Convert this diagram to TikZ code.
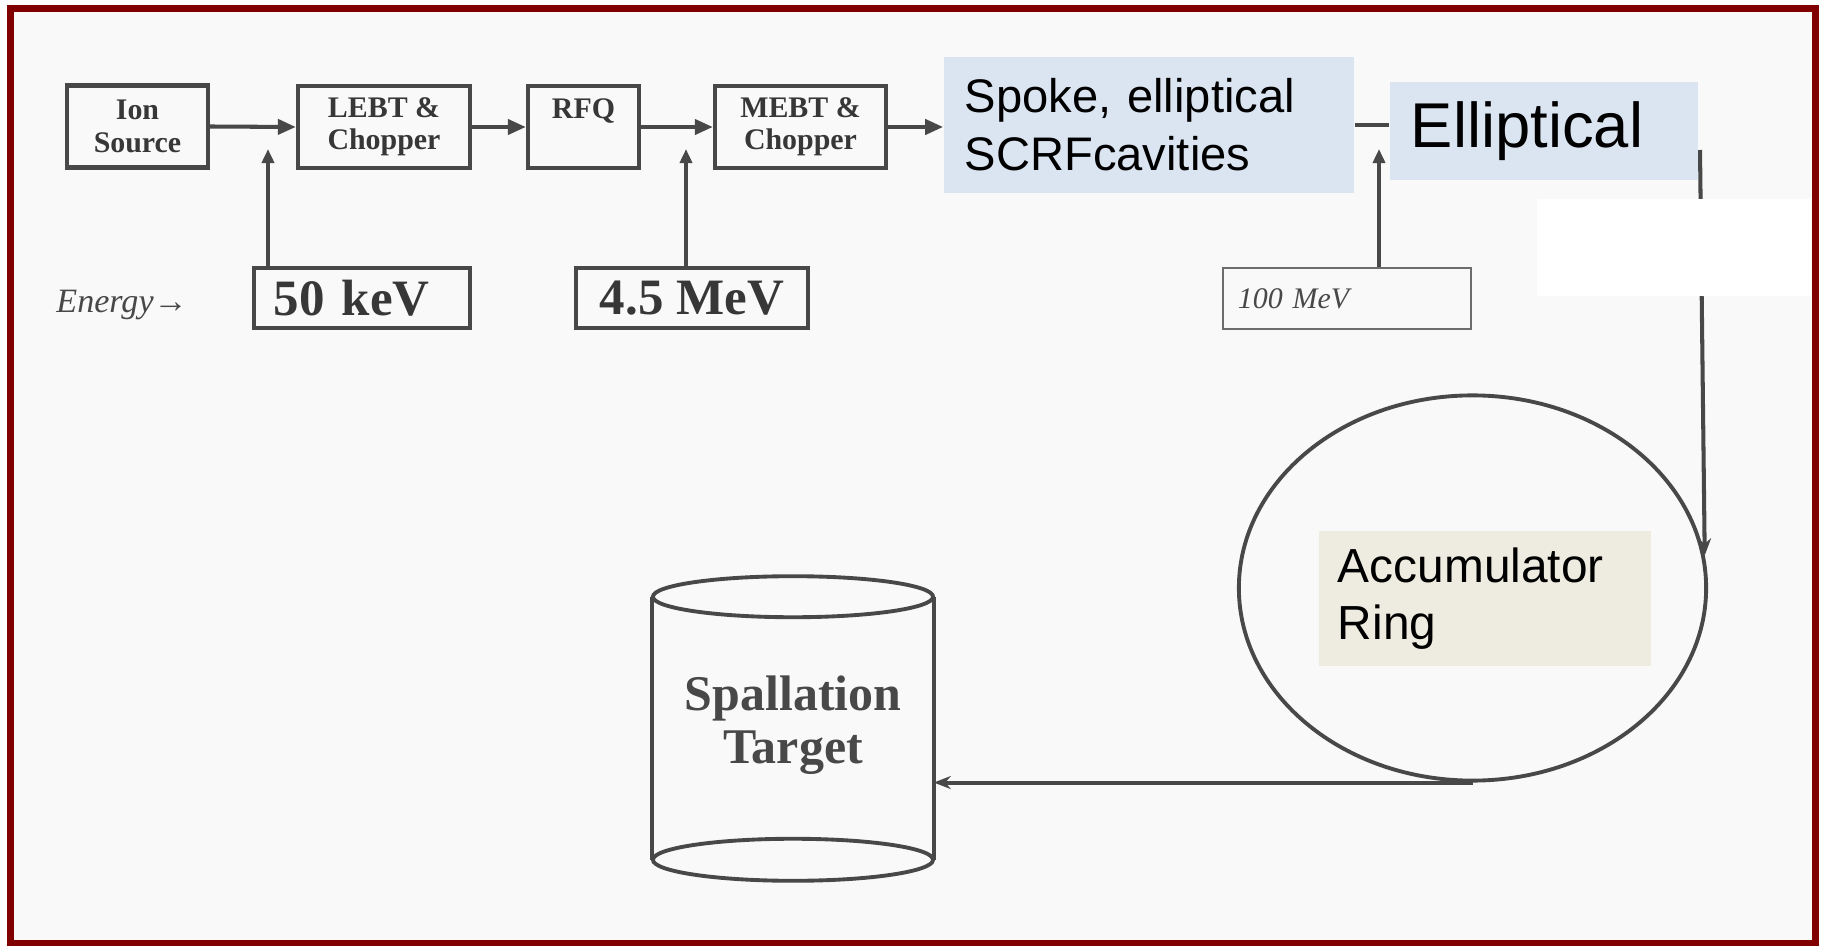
\documentclass[tikz,border=0pt]{standalone}
\usepackage{fontspec}
\setmainfont{Liberation Serif}
\newfontfamily\arialf{Liberation Sans}
\usetikzlibrary{arrows.meta,shapes.geometric}
\definecolor{frame}{RGB}{128,0,0}
\definecolor{ink}{RGB}{72,72,72}
\definecolor{scantext}{RGB}{55,55,55}
\definecolor{paper}{RGB}{249,249,249}
\definecolor{bluefill}{RGB}{219,229,241}
\definecolor{beige}{RGB}{238,236,225}
\begin{document}
\begin{tikzpicture}[x=0.01cm,y=-0.01cm,
  blk/.style={draw=ink, line width=1.2pt, align=center, inner sep=0pt,
    minimum height=0.82cm, text=scantext,
    font=\fontsize{8.5}{9.2}\selectfont\bfseries},
  engbox/.style={draw=ink, line width=0.9pt, inner ysep=0pt,
    minimum height=0.6cm, text=scantext,
    font=\fontsize{14.5}{15}\selectfont\bfseries},
  thinbox/.style={draw=ink!80, line width=0.6pt, align=left, inner ysep=0pt,
    minimum height=0.61cm, text=ink,
    font=\fontsize{8.5}{9}\selectfont\itshape},
  bluebox/.style={fill=bluefill, align=left, inner ysep=0pt, text=black},
  beigebox/.style={fill=beige, align=left, inner ysep=0pt, text=black},
  conn/.style={draw=ink, line width=1.15pt},
  harrow/.style={conn, -{Triangle[length=0.18cm,width=0.15cm]}},
  varrow/.style={conn, -{Triangle[length=0.14cm,width=0.12cm]}},
  larrow/.style={conn, -{Stealth[length=0.17cm,width=0.13cm]}},
  cylline/.style={draw=ink, line width=1.1pt}
]
\useasboundingbox (0,0) rectangle (1821,946);
% background and frame
\fill[white] (0,0) rectangle (1821,946);
\fill[paper] (10,9) rectangle (1816,944);

% top row of blocks
\node[blk, minimum width=1.41cm] (ion) at (137.5,126.5) {Ion\\Source};
\node[blk, minimum width=1.72cm] (lebt) at (384,127) {LEBT \&\\Chopper};
\node[blk, minimum width=1.11cm] (rfq) at (583.5,127) {RFQ\\\phantom{Q}};
\node[blk, minimum width=1.71cm] (mebt) at (800.5,127) {MEBT \&\\Chopper};

% energy boxes
\node[anchor=west, text=ink, font=\fontsize{9.7}{10}\selectfont\itshape] (energy) at (44,305) {Energy→};
\node[engbox, align=left, text width=1.76cm, inner xsep=0.2cm] (kev50) at (362,298) {50 keV};
\node[engbox, minimum width=2.32cm, inner xsep=0pt] (mev45) at (692,298) {4.5 MeV};
\node[thinbox, text width=2.18cm, inner xsep=0.15cm] (mev100) at (1347,298.5) {100 MeV};

% tips of the vertical arrows
\coordinate (t1) at (268,149);
\coordinate (t2) at (686,149);
\coordinate (t3) at (1379,149);

% horizontal arrows
\draw[harrow] (ion.east) -- (lebt.west);
\draw[harrow] (lebt.east) -- (rfq.west);
\draw[harrow] (rfq.east) -- (mebt.west);

% vertical arrows
\draw[varrow] (t1 |- kev50.north) -- (t1);
\draw[varrow] (t2 |- mev45.north) -- (t2);
\draw[varrow] (t3 |- mev100.north) -- (t3);

% ring and path to it
\node[draw=ink, line width=1.1pt, ellipse, minimum width=4.67cm, minimum height=3.85cm, inner sep=0pt] (ring) at (1472.5,588) {};
\coordinate (bend) at (1700,150);
\draw[larrow] (bend) -- (ring.8);
\fill[white] (1537,199) rectangle (1811,296);

% SCRF boxes
\node[bluebox, text width=3.68cm, inner xsep=0.21cm, minimum height=1.36cm,
      font=\arialf\fontsize{13.4}{16.5}\selectfont] (spoke) at (1149,125) {Spoke, elliptical\\SCRFcavities};
\node[bluebox, text width=2.66cm, inner xsep=0.21cm, minimum height=0.98cm,
      font=\arialf\fontsize{18}{20}\selectfont] (ell) at (1544,131) {Elliptical};
\draw[harrow] (mebt.east) -- (mebt.east -| spoke.west);
\draw[conn] (spoke.east) -- (spoke.east -| ell.west);

% accumulator ring label
\node[beigebox, text width=2.94cm, inner xsep=0.19cm, minimum height=1.35cm,
      font=\arialf\fontsize{13.6}{16.2}\selectfont] (accum) at (1485,598.5) {Accumulator\\Ring};

% spallation target cylinder
\node[minimum width=2.8cm, minimum height=2.615cm, inner sep=0pt] (cyl) at (793,728.25) {};
\draw[cylline] (cyl.north west) -- (cyl.south west) (cyl.north east) -- (cyl.south east);
\draw[cylline] (cyl.north) ellipse [x radius=1.4cm, y radius=0.205cm];
\draw[cylline] (cyl.south) ellipse [x radius=1.4cm, y radius=0.21cm];
\node[align=center, text=ink, font=\fontsize{14.2}{15}\selectfont\bfseries] (spal) at (793,725) {Spallation\\Target};
\draw[larrow] (ring.south) -- (ring.south -| cyl.east);

% frame
\draw[frame, line width=0.07cm] (10.5,9) rectangle (1815.5,943.5);
\end{tikzpicture}
\end{document}
